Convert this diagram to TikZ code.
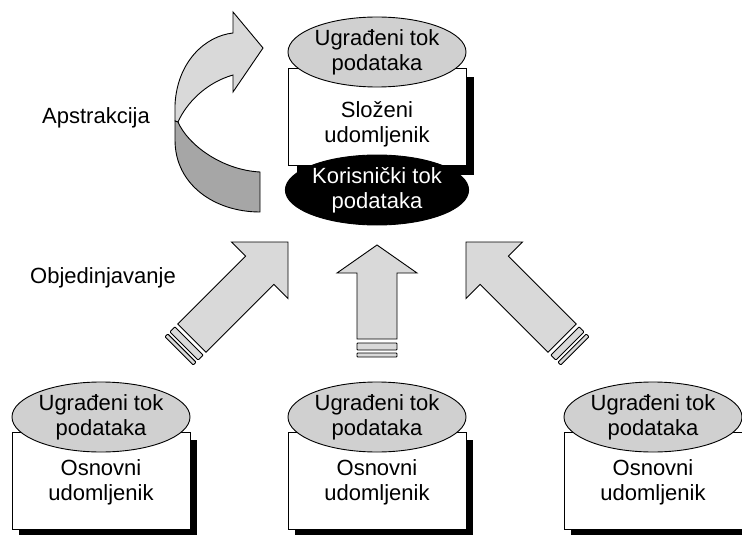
\documentclass[tikz,border=0pt]{standalone}
\usepackage{fontspec}
\setmainfont{Liberation Sans}
\usetikzlibrary{shapes.geometric}
\definecolor{ellgray}{HTML}{D0D0D0}
\definecolor{arrgray}{HTML}{D9D9D9}
\definecolor{darkgray}{HTML}{A6A6A6}
\begin{document}
\begin{tikzpicture}[x=1pt,y=-1pt,line width=0.9pt,
  txt/.style={font=\fontsize{22}{25}\selectfont, align=center, inner sep=0pt},
  ell/.style={ellipse, draw, fill=ellgray, minimum width=178pt, minimum height=70pt, inner sep=0pt, txt},
  box/.style={rectangle, draw, fill=white, minimum width=178pt, minimum height=97pt, inner sep=0pt},
  arr/.style={draw, fill=arrgray, line join=miter},
  stripe/.style={draw, fill=arrgray, rounded corners=0.8pt},
  lbl/.style={font=\fontsize{22}{25}\selectfont, anchor=base, inner sep=0pt}]
\useasboundingbox (0,0) rectangle (742,535);

% ---------- curved arrow (Apstrakcija)
\draw[arr] (233,33) .. controls (205,36) and (177,62) .. (175,105) -- (175,121) -- (178,122)
  .. controls (186,104) and (205,83) .. (233,75) -- (233,92) -- (263,48) -- (233,12) -- cycle;
\draw[draw, fill=darkgray] (178,122) .. controls (188,145) and (222,170) .. (260,172) -- (260,212)
  .. controls (215,212) and (175,185) .. (175,140) -- (175,121) -- cycle;

% ---------- labels
\node[lbl] (apst) at (96,124) {Apstrakcija};
\node[lbl] (obj) at (103,283) {Objedinjavanje};

% ---------- top composite
\fill[black] (297,77) rectangle (474,175);
\node[box] (srect) at (377,116.5) {};
\node[txt] (stext) at (377,124) {Složeni\\udomljenik};
\node[ell] (te) at (377,52) {Ugrađeni tok\\podataka};
\node[ell, fill=black, text=white] (ke) at (377,190) {Korisnički tok\\podataka};

% ---------- straight arrows
\begin{scope}[shift={(377,245)}]
  \draw[arr] (0,0) -- (40,28) -- (20,28) -- (20,94) -- (-20,94) -- (-20,28) -- (-40,28) -- cycle;
  \draw[stripe] (-20,98) rectangle (20,105);
  \draw[stripe] (-20,108) rectangle (20,112);
\end{scope}
\begin{scope}[shift={(288,242)}, rotate=-45]
  \draw[arr] (0,0) -- (40,40) -- (20,40) -- (20,136) -- (-20,136) -- (-20,40) -- (-40,40) -- cycle;
  \draw[stripe] (-20,140) rectangle (20,147);
  \draw[stripe] (-20,150) rectangle (20,154);
\end{scope}
\begin{scope}[shift={(466,242)}, rotate=45]
  \draw[arr] (0,0) -- (40,40) -- (20,40) -- (20,136) -- (-20,136) -- (-20,40) -- (-40,40) -- cycle;
  \draw[stripe] (-20,140) rectangle (20,147);
  \draw[stripe] (-20,150) rectangle (20,154);
\end{scope}

% ---------- bottom composites
\fill[black] (19,440) rectangle (197,535);
\node[box] (r1) at (101,480.5) {};
\node[txt] (t1) at (101,482) {Osnovni\\udomljenik};
\node[ell] (e1) at (101,417) {Ugrađeni tok\\podataka};

\fill[black] (295,440) rectangle (473,535);
\node[box] (r2) at (377,480.5) {};
\node[txt] (t2) at (377,482) {Osnovni\\udomljenik};
\node[ell] (e2) at (377,417) {Ugrađeni tok\\podataka};

\fill[black] (571,440) rectangle (749,535);
\node[box] (r3) at (653,480.5) {};
\node[txt] (t3) at (653,482) {Osnovni\\udomljenik};
\node[ell] (e3) at (653,417) {Ugrađeni tok\\podataka};
\end{tikzpicture}
\end{document}
